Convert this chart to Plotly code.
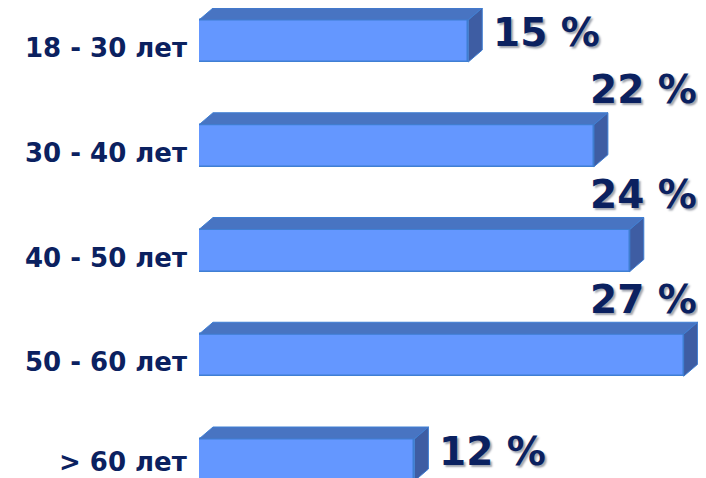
import plotly.graph_objects as go

categories = ["18 - 30 лет", "30 - 40 лет", "40 - 50 лет", "50 - 60 лет", "> 60 лет"]
values = [15, 22, 24, 27, 12]
value_labels = ["15 %", "22 %", "24 %", "27 %", "12 %"]

FRONT = "#6497FF"
EDGE = "#3F7FD3"
TOP = "#4874C2"
SIDE = "#3E5DA3"
NAVY = "#0B2160"

# page body has an 8px margin, so the figure is 8px smaller than the window
W, H = 698, 470
ML = 191
px_per_unit_x = 17.95
row_px = 104.75
first_center_px = 33
x_max = (W - ML) / px_per_unit_x
y_top = -first_center_px / row_px
y_bot = (H - first_center_px) / row_px

bar_h = 42 / row_px
dx = 14 / px_per_unit_x
dy = 12 / row_px

ypos = list(range(len(categories)))

fig = go.Figure()

for i, v in enumerate(values):
    yc = ypos[i]
    yt = yc - bar_h / 2
    yb = yc + bar_h / 2
    fig.add_trace(go.Scatter(
        x=[0, v, v + dx, dx, 0], y=[yt, yt, yt - dy, yt - dy, yt],
        fill="toself", fillcolor=TOP, mode="lines",
        line=dict(color=EDGE, width=1), hoverinfo="skip", showlegend=False))
    fig.add_trace(go.Scatter(
        x=[v, v + dx, v + dx, v, v], y=[yt, yt - dy, yb - dy, yb, yt],
        fill="toself", fillcolor=SIDE, mode="lines",
        line=dict(color=EDGE, width=1), hoverinfo="skip", showlegend=False))

fig.add_trace(go.Bar(
    x=values, y=ypos, orientation="h", width=bar_h,
    marker=dict(color=FRONT, line=dict(color=EDGE, width=1.5)),
    hoverinfo="skip", showlegend=False))

plot_w = W - ML
label_right_paper = (181 - ML) / plot_w
LABEL_SIZE = 26
half_box = LABEL_SIZE * 0.62

annotations = []
for i, (cat, v, lab) in enumerate(zip(categories, values, value_labels)):
    center_px = first_center_px + row_px * ypos[i]
    shift = 7
    if center_px + shift + half_box > H:
        shift = max(0, H - half_box - center_px)
    annotations.append(dict(
        x=label_right_paper, y=ypos[i], xref="paper", yref="y",
        text=cat, showarrow=False, xanchor="right", yanchor="middle", yshift=-shift,
        font=dict(family="DejaVu Sans", size=LABEL_SIZE, color=NAVY, weight="bold")))
    if v + dx + 7 < x_max:
        annotations.append(dict(
            x=v + dx, y=ypos[i], xref="x", yref="y", text=lab, showarrow=False,
            xanchor="left", yanchor="middle", xshift=9, yshift=9,
            font=dict(family="DejaVu Sans", size=39, color=NAVY, weight="bold",
                      shadow="2px 2px 2px #a0a4ae")))
    else:
        annotations.append(dict(
            x=1, y=ypos[i], xref="paper", yref="y", text=lab, showarrow=False,
            xanchor="right", yanchor="middle", xshift=-7, yshift=56,
            font=dict(family="DejaVu Sans", size=39, color=NAVY, weight="bold",
                      shadow="2px 2px 2px #a0a4ae")))

fig.update_layout(
    width=W, height=H,
    margin=dict(l=ML, r=0, t=0, b=0),
    paper_bgcolor="white", plot_bgcolor="white",
    xaxis=dict(range=[0, x_max], visible=False, fixedrange=True),
    yaxis=dict(range=[y_bot, y_top], visible=False, fixedrange=True),
    annotations=annotations,
    bargap=0,
)
fig.update_xaxes(showgrid=False, zeroline=False)
fig.update_yaxes(showgrid=False, zeroline=False)

fig.write_html("out.html")
